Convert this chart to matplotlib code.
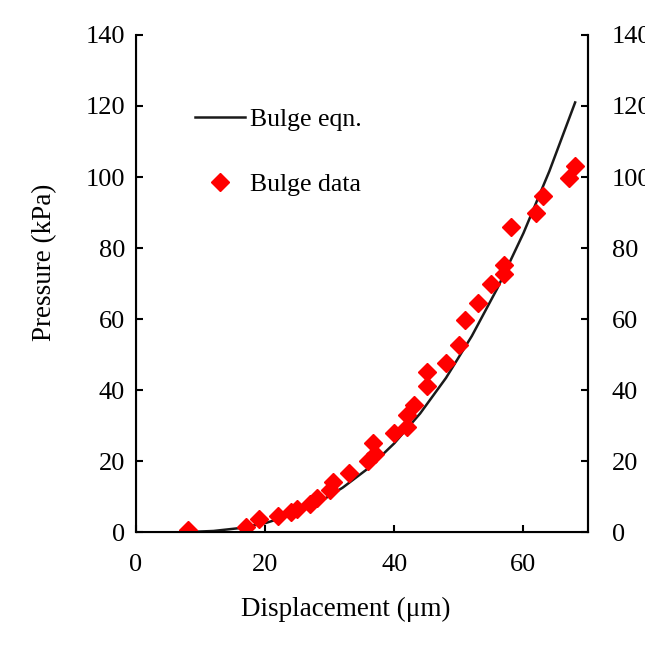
import matplotlib
matplotlib.use('Agg')
from matplotlib import pyplot as plt

# bulge equation curve
EQN_DISP = [8, 12, 16, 20, 24, 28, 32, 36, 40, 44, 48, 52, 56, 60, 64, 68]
EQN_PRESSURE = [0, 0.3, 1.1, 2.5, 4.8, 8.0, 12.5, 18.0, 25.0, 33.4, 43.4,
                55.2, 68.8, 84.2, 101.6, 121]

# measured bulge data
DATA_DISP = [8, 17, 19, 22, 24, 25, 27, 28, 30, 30.5, 33, 36, 37, 36.7,
             40, 42, 42, 43, 45, 45, 48, 50, 51, 53, 55, 57, 57, 58, 62,
             63, 67, 68]
DATA_PRESSURE = [0.5, 1.5, 3.7, 4.5, 5.6, 6.5, 7.9, 9.5, 11.8, 14.2, 16.7,
                 20, 22, 25, 27.8, 29.7, 33, 35.8, 41, 45, 47.5, 52.7, 59.7,
                 64.6, 69.8, 72.6, 75.3, 86, 89.8, 94.6, 99.6, 103.1]

X_TICKS = [0, 20, 40, 60]
Y_TICKS = [0, 20, 40, 60, 80, 100, 120, 140]

plt.rcParams['font.family'] = ['Liberation Serif', 'DejaVu Serif']
plt.rcParams['font.size'] = 19

fig = plt.figure(figsize=(6.45, 6.54), dpi=100)
ax = fig.add_axes([0.2109, 0.1865, 0.7008, 0.760])

ax.plot(EQN_DISP, EQN_PRESSURE, color='#1a1a1a', lw=1.8, label='Bulge eqn.')
ax.plot(DATA_DISP, DATA_PRESSURE, ls='none', marker='D', ms=9.5,
        color='#ff0000', mec='#ff0000', label='Bulge data')

ax.set_xlim(0, 70)
ax.set_ylim(0, 140)
ax.set_xticks(X_TICKS)
ax.set_yticks(Y_TICKS)
ax.spines['top'].set_visible(False)
for side in ['left', 'right', 'bottom']:
    ax.spines[side].set_linewidth(1.5)
ax.tick_params(direction='in', length=5, width=1.5, labelsize=19)
ax.tick_params(axis='x', pad=16)
ax.tick_params(axis='y', pad=8)

# right hand axis repeats the pressure scale
ax2 = ax.twinx()
ax2.set_ylim(0, 140)
ax2.set_yticks(Y_TICKS)
ax2.spines['top'].set_visible(False)
ax2.spines['right'].set_linewidth(1.5)
ax2.tick_params(direction='in', length=5, width=1.5, labelsize=19, pad=17)

ax.set_xlabel('Displacement (\u03bcm)', fontsize=19.5)
ax.set_ylabel('Pressure (kPa)', fontsize=19.5)
ax.xaxis.set_label_coords(0.465, -0.131)
ax.yaxis.set_label_coords(-0.175, 0.543)

ax.legend(loc='upper left', bbox_to_anchor=(0.079, 0.899), frameon=False,
          handlelength=1.95, labelspacing=1.63, handletextpad=0.2,
          numpoints=1, fontsize=18.5)

fig.savefig('out.png', dpi=100)
